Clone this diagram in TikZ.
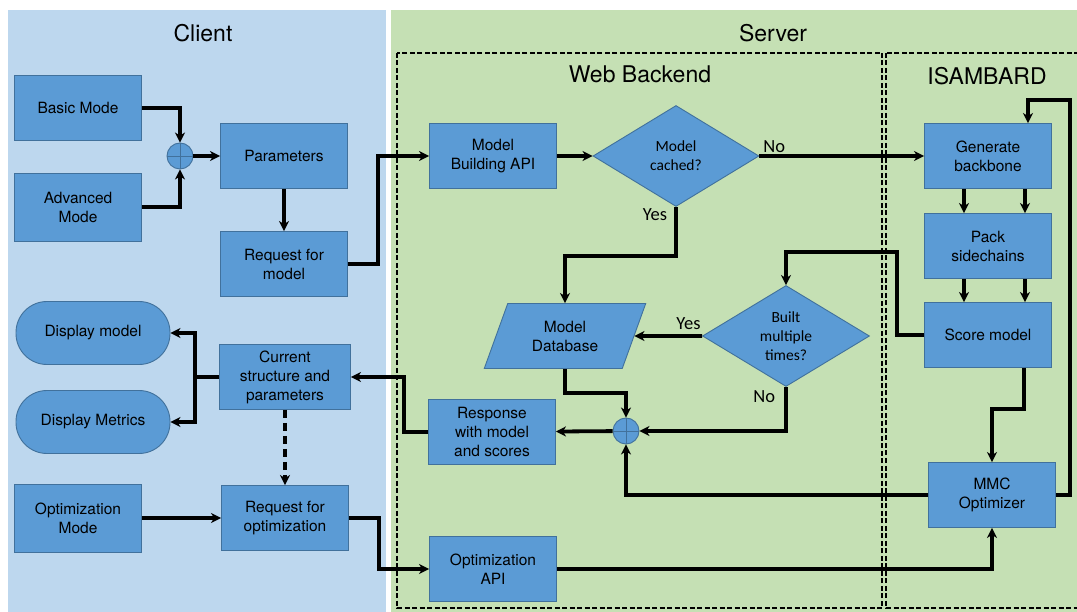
\documentclass[tikz,border=0pt]{standalone}
\usepackage{fontspec}
\setmainfont{TeX Gyre Heros}
\newfontfamily\calib{Carlito}
\usetikzlibrary{shapes.geometric,arrows.meta}
\definecolor{clientbg}{RGB}{189,215,238}
\definecolor{serverbg}{RGB}{197,224,180}
\definecolor{boxfill}{RGB}{91,155,213}
\definecolor{boxline}{RGB}{65,113,156}
\begin{document}
\begin{tikzpicture}
[x=1pt,y=-1pt,
 box/.style={draw=boxline,fill=boxfill,line width=.9pt,minimum width=127pt,minimum height=65pt,align=center,font=\fontsize{15.5}{19}\selectfont},
 decide/.style={diamond,draw=boxline,fill=boxfill,line width=.9pt,minimum width=166pt,minimum height=101pt,inner sep=0pt,align=center,font=\calib\fontsize{15.5}{19}\selectfont},
 pill/.style={box,rounded corners=31pt,minimum width=154pt,minimum height=63pt},
 plus/.style={circle,draw=boxline,fill=boxfill,line width=.9pt,minimum size=26pt,inner sep=0pt,
   path picture={\draw[boxline,line width=.6pt] (path picture bounding box.north) -- (path picture bounding box.south)
     (path picture bounding box.west) -- (path picture bounding box.east);}},
 arr/.style={line width=3.8pt,-{Stealth[length=10pt,width=10pt,inset=3pt]}},
 lab/.style={font=\calib\fontsize{18.5}{20}\selectfont,inner sep=1pt},
 title/.style={font=\fontsize{23}{26}\selectfont},
 zone/.style={line width=1.1pt,dash pattern=on 5pt off 2.5pt}]
\useasboundingbox (0,0) rectangle (1077,612);
% panels
\fill[clientbg] (8,10) rectangle (386,612);
\fill[serverbg] (391,10) rectangle (1077,612);
\draw[zone] (397,53) rectangle (882,608);
\draw[zone] (886,53) rectangle (1095,608);
\node[title] (tclient) at (203,33) {Client};
\node[title] (tserver) at (773,33) {Server};
\node[title] (tweb) at (640,74) {Web Backend};
\node[title] (tisam) at (987,76) {ISAMBARD};

% client
\node[box] (basic) at (78,108) {Basic Mode};
\node[box,minimum height=68pt] (adv) at (78,207) {Advanced\\Mode};
\node[plus] (plusa) at (180,156) {};
\node[box] (param) at (284,156) {Parameters};
\node[box] (reqm) at (284,264) {Request for\\model};
\node[pill] (dmod) at (93,333) {Display model};
\node[pill] (dmet) at (93,422) {Display Metrics};
\node[box,minimum width=131pt] (cur) at (285,377) {Current\\structure and\\parameters};
\node[box,minimum height=68pt] (optm) at (78,518) {Optimization\\Mode};
\node[box] (reqo) at (285,518) {Request for\\optimization};

% web backend
\node[box] (api) at (493,156) {Model\\Building API};
\node[decide] (cached) at (676,156) {Model\\cached?};
\node[trapezium,trapezium left angle=66,trapezium right angle=114,trapezium stretches=true,
  draw=boxline,fill=boxfill,line width=.9pt,minimum width=163pt,minimum height=65pt,inner sep=0pt,
  align=center,font=\fontsize{15.5}{19}\selectfont] (db) at (565,336) {Model\\Database};
\node[decide,minimum width=167pt,minimum height=100pt] (built) at (786,336) {Built\\multiple\\times?};
\node[plus] (plusb) at (626,431) {};
\node[box] (resp) at (492,432) {Response\\with model\\and scores};
\node[box] (oapi) at (493,569) {Optimization\\API};

% isambard
\node[box] (gen) at (988,156) {Generate\\backbone};
\node[box] (pack) at (988,246) {Pack\\sidechains};
\node[box] (score) at (988,335) {Score model};
\node[box] (mmc) at (992,495) {MMC\\Optimizer};

\foreach \from/\to in {plusa/param,param/reqm,api/cached,plusb/resp,optm/reqo}
  \draw[arr] (\from) -- (\to);
\draw[arr] (basic) -| (plusa);
\draw[arr] (adv) -| (plusa);
\draw[arr] (reqm.east) -- ++(30,0) |- (api);
\draw[arr] (reqo.east) -- ++(30,0) |- (oapi);
\draw[arr] (cur.west) -- ++(-24,0) coordinate (fork) |- (dmod);
\draw[arr] (fork) |- (dmet);
\draw[arr,dash pattern=on 8pt off 5pt] (cur) -- (reqo);
\draw[arr] (resp.west) -- ++(-24,0) |- (cur);
\draw[arr] (cached) -- node[lab,above,pos=.09] {No} (gen);
\draw[arr] (cached.south) -- node[lab,left=6pt,pos=.15] {Yes} ++(0,49) -| (db);
\draw[arr] (built) -- node[lab,above=3pt,pos=.2] {Yes} (db);
\draw[arr] (built) |- node[lab,left=8pt,pos=.11] {No} (plusb);
\draw[arr] (db.south) -- ++(0,24) -| (plusb);
\draw[arr] (mmc) -| (plusb);
\draw[arr] (oapi) -| (mmc);
\foreach \dx in {-24pt,37pt} {
  \draw[arr] ([xshift=\dx]gen.south) -- ([xshift=\dx]pack.north);
  \draw[arr] ([xshift=\dx]pack.south) -- ([xshift=\dx]score.north);
}
\draw[arr] ([xshift=36pt]score.south) -- ++(0,41) -| (mmc);
\draw[arr] (mmc.east) -| (1070,100) -| ([xshift=40pt]gen.north);
\draw[arr] (score.west) -| (897,252) -| (built.north);
\end{tikzpicture}
\end{document}
